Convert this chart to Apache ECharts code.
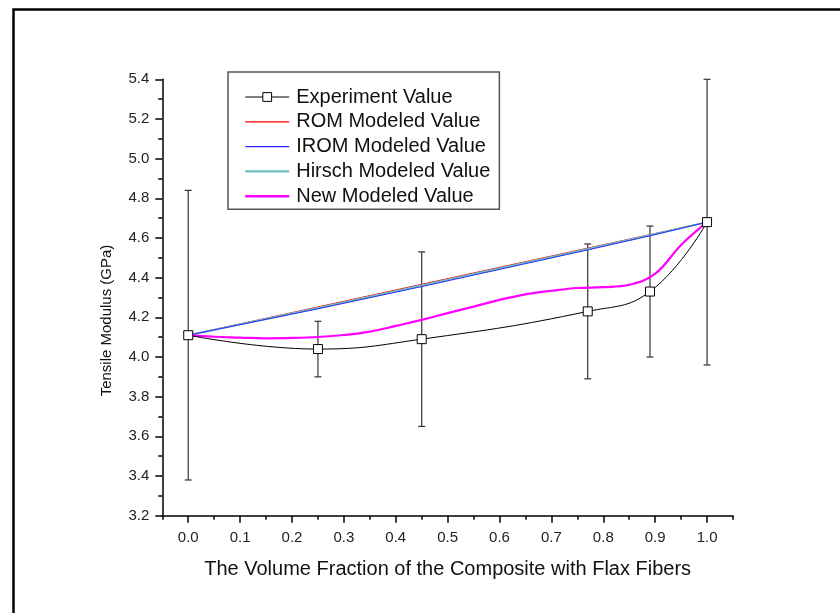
<!DOCTYPE html>
<html>
<head>
<meta charset="utf-8">
<script src="https://cdn.jsdelivr.net/npm/echarts@6/dist/echarts.min.js"></script>
<style>html,body{margin:0;padding:0;background:#fff}#c{width:840px;height:613px}</style>
</head>
<body>
<div id="c"></div>
<script>
// ---- data ----
var expX = [0.0, 0.25, 0.45, 0.77, 0.89, 1.0];
var expY = [4.11, 4.04, 4.09, 4.23, 4.33, 4.68];
var expLow = [3.38, 3.90, 3.65, 3.89, 4.00, 3.96];
var expHigh = [4.84, 4.18, 4.53, 4.57, 4.66, 5.40];

var romY = [4.11, 4.2525, 4.3665, 4.549, 4.617, 4.68];
var iromY = [4.11, 4.243, 4.355, 4.540, 4.611, 4.68];
var hirschY = [4.11, 4.247, 4.360, 4.544, 4.614, 4.68];

var newX = [0.0, 0.05, 0.1, 0.15, 0.2, 0.25, 0.3, 0.35, 0.4, 0.45, 0.5, 0.55, 0.6, 0.65, 0.7, 0.75, 0.8, 0.85, 0.9, 0.95, 1.0];
var newY = [4.11, 4.102, 4.098, 4.094, 4.096, 4.101, 4.111, 4.128, 4.157, 4.187, 4.221, 4.254, 4.288, 4.316, 4.334, 4.348, 4.352, 4.364, 4.42, 4.565, 4.68];

var xMajorTicks = [0.0, 0.1, 0.2, 0.3, 0.4, 0.5, 0.6, 0.7, 0.8, 0.9, 1.0];
var xMinorTicks = [-0.05, 0.05, 0.15, 0.25, 0.35, 0.45, 0.55, 0.65, 0.75, 0.85, 0.95, 1.05];

var legendNames = ['Experiment Value', 'ROM Modeled Value', 'IROM Modeled Value', 'Hirsch Modeled Value', 'New Modeled Value'];

function pairs(xs, ys) { return xs.map(function (x, i) { return [x, ys[i]]; }); }
var errData = expX.map(function (x, i) { return [x, expLow[i], expHigh[i]]; });

var colors = { rom: '#ff0000', irom: '#2b2bff', hirsch: '#6cbfbf', nw: '#ff00ff' };
var noSym = { color: 'rgba(0,0,0,0)', borderColor: 'rgba(0,0,0,0)', borderWidth: 0 };
var legendData = [
  { name: legendNames[0], lineStyle: { width: 1, color: '#000' }, itemStyle: { color: '#fff', borderColor: '#000', borderWidth: 1 } },
  { name: legendNames[1], lineStyle: { width: 1.3, color: colors.rom }, itemStyle: noSym },
  { name: legendNames[2], lineStyle: { width: 1.3, color: colors.irom }, itemStyle: noSym },
  { name: legendNames[3], lineStyle: { width: 2.2, color: colors.hirsch }, itemStyle: noSym },
  { name: legendNames[4], lineStyle: { width: 2.4, color: colors.nw }, itemStyle: noSym }
];

var FONT = '"Liberation Sans", Arial, sans-serif';
var chart = echarts.init(document.getElementById('c'), null, { renderer: 'canvas' });
chart.setOption({
  animation: false,
  backgroundColor: '#fff',
  textStyle: { fontFamily: FONT },
  graphic: [{
    type: 'rect', left: 11, top: 7, z: -10,
    shape: { width: 845, height: 620 },
    style: { fill: 'none', stroke: '#000', lineWidth: 2.5 }
  }],
  grid: { left: 162.3, right: 107, top: 79.3, bottom: 97.3, containLabel: false },
  legend: {
    orient: 'vertical', left: 228, top: 72,
    padding: [15, 9, 3, 16],
    itemWidth: 44, itemHeight: 11, itemGap: 4.8,
    borderColor: '#555', borderWidth: 1.5,
    data: legendData,
    textStyle: { fontFamily: FONT, fontSize: 20, lineHeight: 20, color: '#111', padding: [0, 0, 0, 2] }
  },
  xAxis: [{
    type: 'value', min: -0.05, max: 1.05, position: 'bottom',
    name: 'The Volume Fraction of the Composite with Flax Fibers',
    nameLocation: 'middle', nameGap: 44,
    nameTextStyle: { fontFamily: FONT, fontSize: 20, color: '#111' },
    axisLine: { show: true, onZero: false, lineStyle: { color: '#000', width: 1.5 } },
    axisTick: { show: true, length: 7, customValues: xMajorTicks, lineStyle: { color: '#000', width: 1.5 } },
    axisLabel: { customValues: xMajorTicks, margin: 15, fontSize: 15, color: '#222', fontFamily: FONT,
      formatter: function (v) { return v.toFixed(1); } },
    splitLine: { show: false }
  }, {
    type: 'value', min: -0.05, max: 1.05, position: 'bottom',
    axisLine: { show: false, onZero: false },
    axisTick: { show: true, length: 4, customValues: xMinorTicks, lineStyle: { color: '#000', width: 1.5 } },
    axisLabel: { show: false },
    splitLine: { show: false }
  }],
  yAxis: {
    type: 'value', min: 3.2, max: 5.4, interval: 0.2,
    name: 'Tensile Modulus (GPa)', nameLocation: 'middle', nameGap: 48,
    nameTextStyle: { fontFamily: FONT, fontSize: 15, color: '#111', padding: [0, 46, 0, 0] },
    axisLine: { show: true, onZero: false, lineStyle: { color: '#000', width: 1.5 } },
    axisTick: { show: true, length: 7, lineStyle: { color: '#000', width: 1.5 } },
    minorTick: { show: true, splitNumber: 2, length: 4, lineStyle: { color: '#000', width: 1.5 } },
    axisLabel: { margin: 13, fontSize: 15, color: '#222', fontFamily: FONT,
      formatter: function (v) { return v.toFixed(1); } },
    splitLine: { show: false }
  },
  series: [
    {
      name: 'errorbars', type: 'custom', z: 2, silent: true,
      data: errData,
      renderItem: function (params, api) {
        var x = api.value(0);
        var lo = api.coord([x, api.value(1)]);
        var hi = api.coord([x, api.value(2)]);
        var w = 3.5;
        var st = { stroke: '#333', lineWidth: 1.2 };
        return {
          type: 'group',
          children: [
            { type: 'line', shape: { x1: lo[0], y1: lo[1], x2: hi[0], y2: hi[1] }, style: st },
            { type: 'line', shape: { x1: lo[0] - w, y1: lo[1], x2: lo[0] + w, y2: lo[1] }, style: st },
            { type: 'line', shape: { x1: hi[0] - w, y1: hi[1], x2: hi[0] + w, y2: hi[1] }, style: st }
          ]
        };
      }
    },
    {
      name: 'ROM Modeled Value', type: 'line', z: 3, showSymbol: false, symbol: 'none',
      data: pairs(expX, romY),
      lineStyle: { color: colors.rom, width: 1 }, itemStyle: { color: colors.rom }
    },
    {
      name: 'Hirsch Modeled Value', type: 'line', z: 3, showSymbol: false, symbol: 'none',
      data: pairs(expX, hirschY),
      lineStyle: { color: colors.hirsch, width: 2 }, itemStyle: { color: colors.hirsch }
    },
    {
      name: 'IROM Modeled Value', type: 'line', z: 3, showSymbol: false, symbol: 'none',
      data: pairs(expX, iromY),
      lineStyle: { color: colors.irom, width: 1 }, itemStyle: { color: colors.irom }
    },
    {
      name: 'New Modeled Value', type: 'line', z: 4, showSymbol: false, symbol: 'none', smooth: 0.4,
      data: pairs(newX, newY),
      lineStyle: { color: colors.nw, width: 2.2 }, itemStyle: { color: colors.nw }
    },
    {
      name: 'Experiment Value', type: 'line', z: 5, smooth: 0.45,
      symbol: 'rect', symbolSize: 9, showSymbol: true,
      data: pairs(expX, expY),
      lineStyle: { color: '#000', width: 1 },
      itemStyle: { color: '#fff', borderColor: '#000', borderWidth: 1 }
    }
  ]
});
</script>
</body>
</html>
